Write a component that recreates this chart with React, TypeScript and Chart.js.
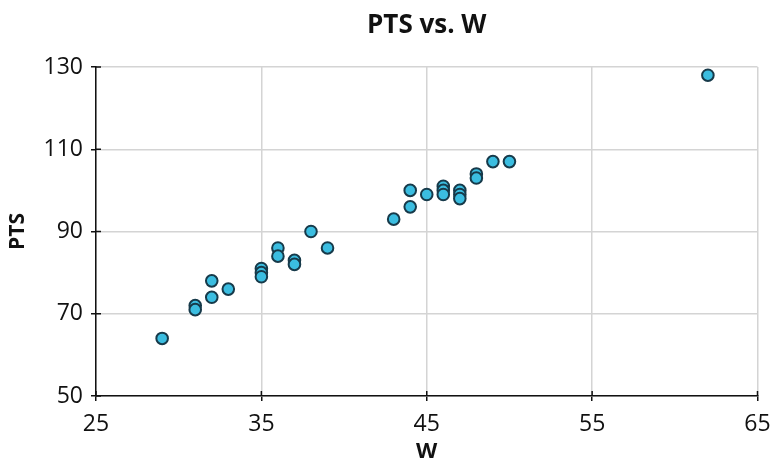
import React, { useEffect, useRef } from "react";
import { Chart, registerables } from "chart.js";

Chart.register(...registerables);

const winsW: number[] = [29, 31, 31, 32, 32, 33, 35, 35, 35, 36, 36, 37, 37, 38, 39, 43, 44, 44, 45, 46, 46, 46, 47, 47, 47, 48, 48, 49, 50, 62];
const pointsPTS: number[] = [64, 72, 71, 78, 74, 76, 81, 80, 79, 86, 84, 83, 82, 90, 86, 93, 96, 100, 99, 101, 100, 99, 100, 99, 98, 104, 103, 107, 107, 128];
const xTicks: number[] = [25, 35, 45, 55, 65];
const yTicks: number[] = [50, 70, 90, 110, 130];
const chartTitle = "PTS vs. W";

const FONT = "'Open Sans', 'Noto Sans', sans-serif";

const titleAndTicksPlugin = {
  id: "titleAndTicks",
  afterDraw(chart: any) {
    const ctx = chart.ctx;
    const area = chart.chartArea;
    const xs = chart.scales.x;
    const ys = chart.scales.y;
    ctx.save();
    // inward halves of the crossing tick marks
    ctx.strokeStyle = "#111";
    ctx.lineWidth = 1.5;
    ctx.beginPath();
    xTicks.forEach((v) => {
      const px = xs.getPixelForValue(v);
      ctx.moveTo(px, area.bottom);
      ctx.lineTo(px, area.bottom - 5);
    });
    yTicks.forEach((v) => {
      const py = ys.getPixelForValue(v);
      ctx.moveTo(area.left, py);
      ctx.lineTo(area.left + 5, py);
    });
    ctx.stroke();
    // title centred over the plot area
    ctx.fillStyle = "#111";
    ctx.font = `bold 26px ${FONT}`;
    ctx.textAlign = "center";
    ctx.textBaseline = "alphabetic";
    ctx.fillText(chartTitle, (area.left + area.right) / 2, 32.5);
    ctx.restore();
  },
};

export default function App() {
  const ref = useRef<HTMLCanvasElement | null>(null);

  useEffect(() => {
    if (!ref.current) return;
    const data = winsW.map((w, i) => ({ x: w, y: pointsPTS[i] }));
    const chart = new Chart(ref.current, {
      type: "scatter",
      data: {
        datasets: [
          {
            label: "PTS",
            data,
            backgroundColor: "#3bbde0",
            borderColor: "#173a4a",
            borderWidth: 2,
            pointRadius: 5.8,
          },
        ],
      },
      options: {
        responsive: false,
        animation: false,
        layout: { padding: { left: 0, right: 14.5, top: 67, bottom: 0 } },
        plugins: {
          legend: { display: false },
          tooltip: { enabled: false },
          title: { display: false },
        },
        scales: {
          x: {
            type: "linear",
            min: xTicks[0],
            max: xTicks[xTicks.length - 1],
            afterBuildTicks: (s: any) => {
              s.ticks = xTicks.map((v) => ({ value: v }));
            },
            afterFit: (s: any) => {
              s.height = 69;
              s.paddingLeft = 0;
              s.paddingRight = 0;
            },
            grid: { color: "#d4d4d4", lineWidth: 1.5, tickColor: "#111", tickLength: 5 },
            border: { color: "#111", width: 1.5 },
            ticks: { color: "#111", font: { family: FONT, size: 23 }, padding: 10 },
            title: {
              display: true,
              text: "W",
              color: "#111",
              font: { family: FONT, size: 22, weight: "bold" },
              padding: { top: 0, bottom: 0 },
            },
          },
          y: {
            type: "linear",
            min: yTicks[0],
            max: yTicks[yTicks.length - 1],
            afterBuildTicks: (s: any) => {
              s.ticks = yTicks.map((v) => ({ value: v }));
            },
            afterFit: (s: any) => {
              s.width = 96;
              s.paddingTop = 0;
              s.paddingBottom = 0;
            },
            grid: { color: "#d4d4d4", lineWidth: 1.5, tickColor: "#111", tickLength: 5 },
            border: { color: "#111", width: 1.5 },
            ticks: { color: "#111", font: { family: FONT, size: 23 }, padding: 8 },
            title: {
              display: true,
              text: "PTS",
              color: "#111",
              font: { family: FONT, size: 21, weight: "bold" },
              padding: { top: 5, bottom: 0 },
            },
          },
        },
      },
      plugins: [titleAndTicksPlugin],
    });
    return () => chart.destroy();
  }, []);

  return (
    <div style={{ position: "fixed", left: 0, top: 0, width: 772, height: 465, background: "#fff" }}>
      <canvas ref={ref} width={772} height={465} style={{ display: "block" }} />
    </div>
  );
}
